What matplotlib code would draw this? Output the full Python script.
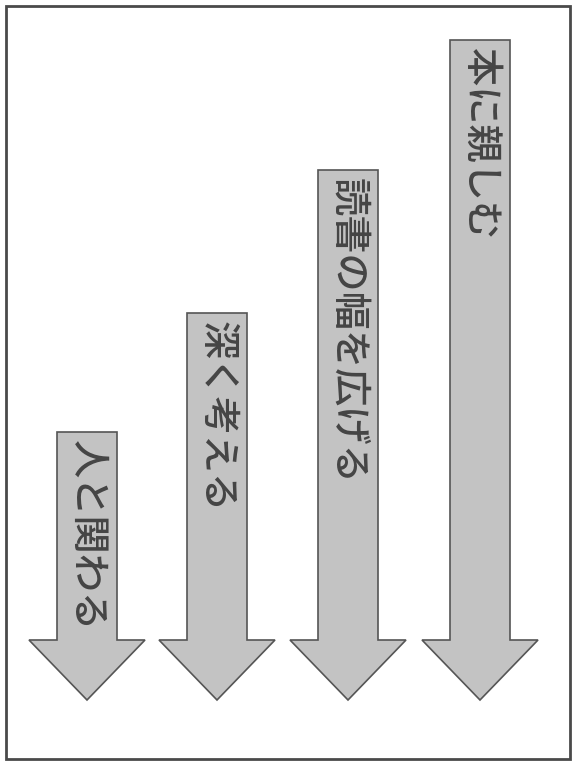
import matplotlib
matplotlib.use("Agg")
import matplotlib.pyplot as plt
from matplotlib.patches import Polygon, Rectangle

plt.rcParams['font.family'] = ['Noto Sans CJK JP', 'DejaVu Sans']

labels = ["人と関わる", "深く考える", "読書の幅を広げる", "本に親しむ"]
centers = [87, 217, 348, 480]       # arrow centre x (px)
tops = [432, 313, 170, 40]          # top of arrow shaft (px)

shaft_half = 30
head_half = 58
head_base = 640
tip_y = 700

fig = plt.figure(figsize=(5.74, 7.65), dpi=100)
ax = fig.add_axes([0, 0, 1, 1])
ax.set_xlim(0, 574)
ax.set_ylim(765, 0)
ax.axis('off')

ax.add_patch(Rectangle((6, 6), 564, 753, fill=False, edgecolor='#4a4a4a', linewidth=2))

for lab, cx, top in zip(labels, centers, tops):
    pts = [(cx - shaft_half, top), (cx + shaft_half, top), (cx + shaft_half, head_base),
           (cx + head_half, head_base), (cx, tip_y), (cx - head_half, head_base),
           (cx - shaft_half, head_base)]
    ax.add_patch(Polygon(pts, closed=True, facecolor='#c3c3c3', edgecolor='#555555', linewidth=1.2))
    ax.text(cx, top + 8, lab, rotation=-90, rotation_mode='anchor', ha='left', va='center',
            fontsize=27.5, color='#454545', fontweight='medium')

fig.savefig("out.png", dpi=100)
